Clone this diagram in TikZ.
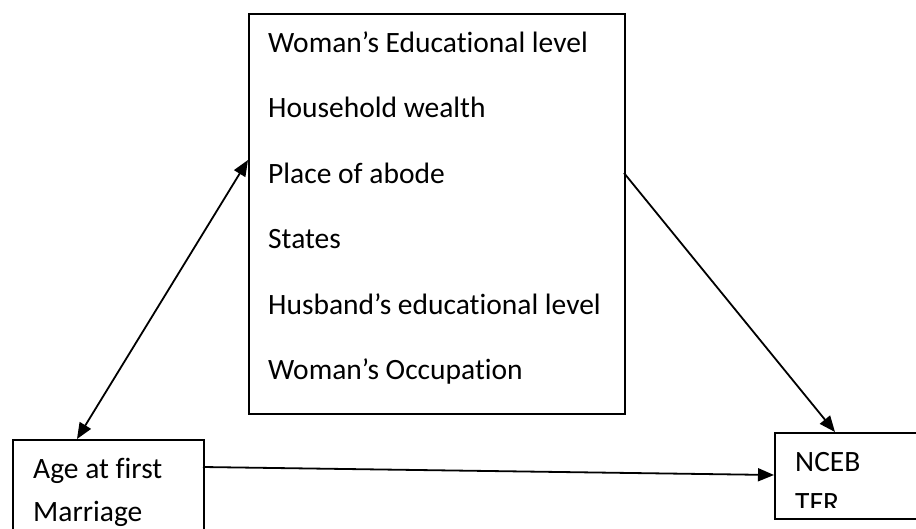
\documentclass[tikz,border=0pt]{standalone}
\usepackage{fontspec}
\setmainfont{Carlito}[Ligatures={NoCommon}]
\usetikzlibrary{arrows.meta}
\begin{document}
\begin{tikzpicture}[x=1pt,y=-1pt,
  box/.style={draw, line width=1.8pt, inner sep=0pt, anchor=north west},
  lbl/.style={anchor=base west, inner sep=0pt, font=\fontsize{29.5}{34}\selectfont},
  conn/.style={line width=1.8pt, -{Triangle[length=16pt,width=13pt]}},
  dconn/.style={line width=1.8pt, {Triangle[length=16pt,width=13pt]}-{Triangle[length=16pt,width=13pt]}},
]
\useasboundingbox (0,0) rectangle (916,528);
% boxes
\node[box, minimum width=376pt, minimum height=400pt] (mid) at (248,13) {};
\node[box, minimum width=191pt, minimum height=120pt] (age) at (12,439) {};
\node[box, minimum width=160pt, minimum height=86pt] (out) at (774,432) {};
% texts
\node[lbl] (t1) at (268,52) {Woman’s Educational level};
\node[lbl] (t2) at (268,117) {Household wealth};
\node[lbl] (t3) at (268,183) {Place of abode};
\node[lbl] (t4) at (268,248) {States};
\node[lbl] (t5) at (268,314) {Husband’s educational level};
\node[lbl] (t6) at (268,379) {Woman’s Occupation};
\node[lbl] (a1) at (33,478) {Age at first};
\node[lbl] (a2) at (33,521) {Marriage};
\begin{scope}
\clip (774,432) rectangle (916,507);
\node[lbl] (n1) at (795,471) {NCEB};
\node[lbl] (n2) at (795,512) {TFR};
\end{scope}
% connector end points
\coordinate (ageTop) at (77,439);
\coordinate (midL) at (248,160);
\coordinate (midR) at (624,173);
\coordinate (outTop) at (835,432);
\coordinate (ageR) at (203,467);
\coordinate (outL) at (774,475);
\draw[dconn] (ageTop) -- (midL);
\draw[conn] (midR) -- (outTop);
\draw[conn] (ageR) -- (outL);
\end{tikzpicture}
\end{document}
